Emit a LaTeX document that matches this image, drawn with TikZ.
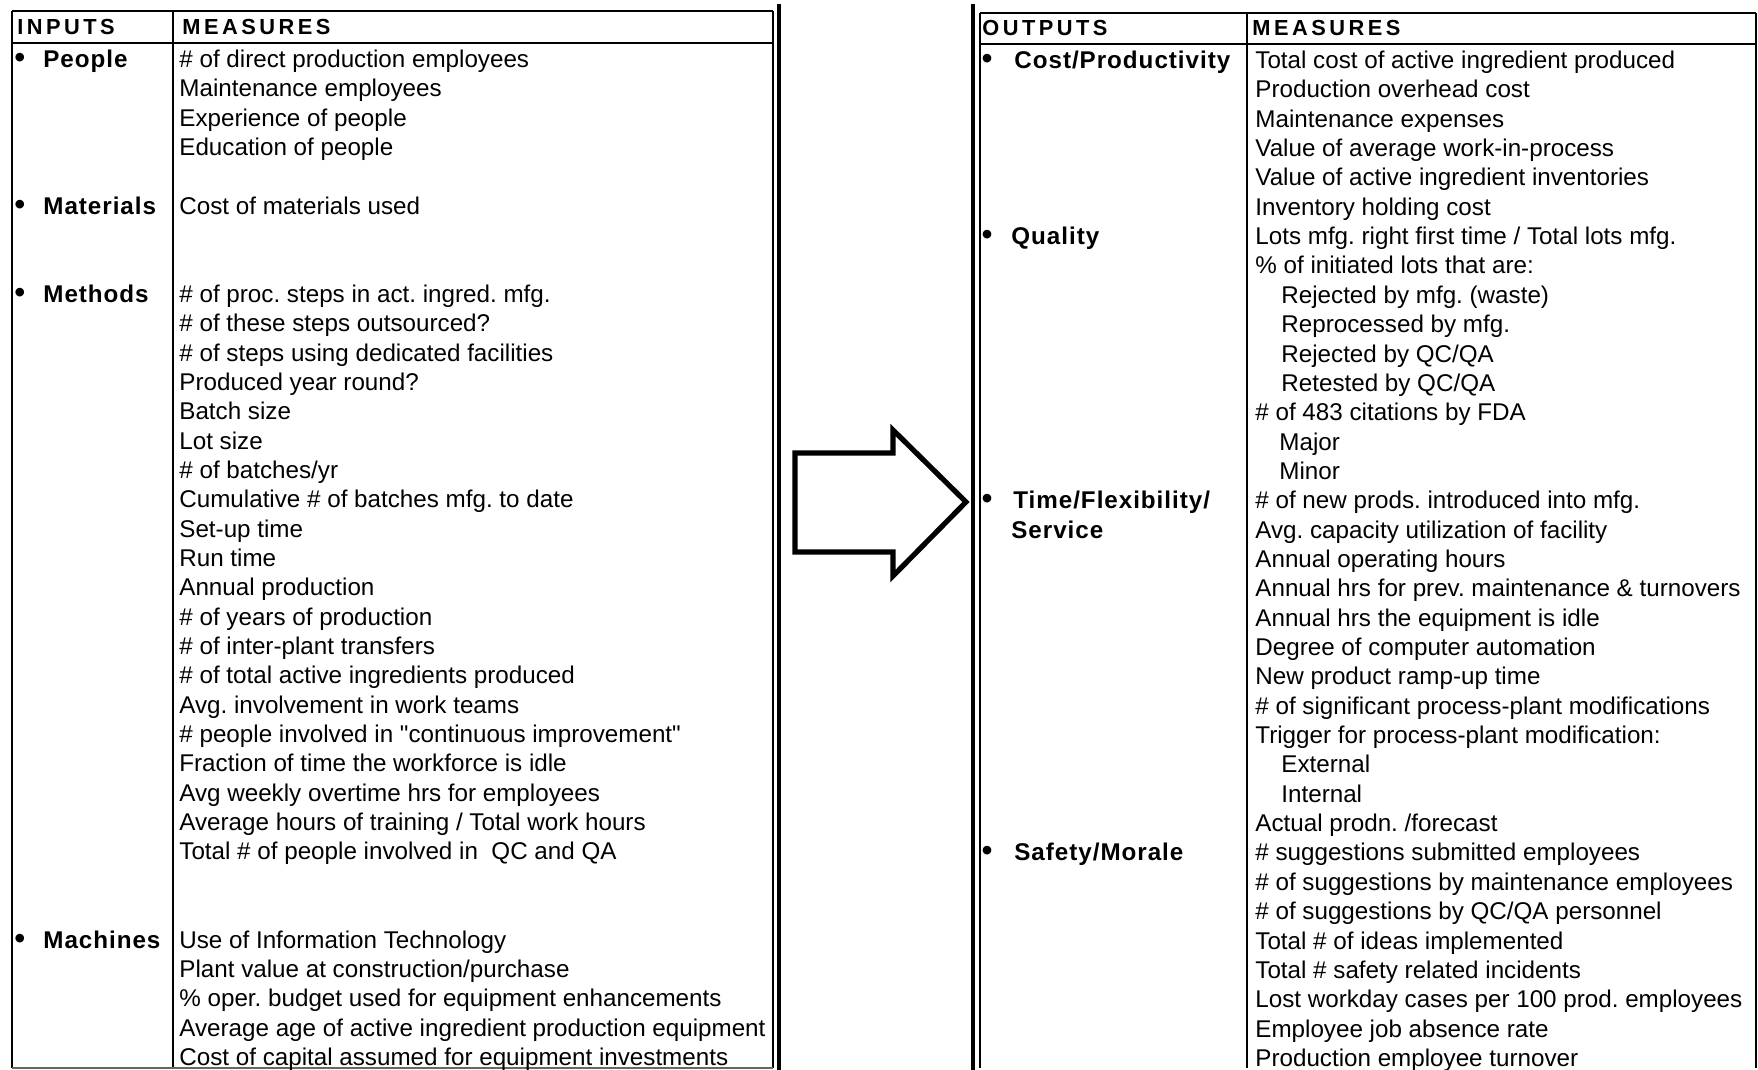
\documentclass[tikz,border=0pt]{standalone}
\usepackage{fontspec}
\setmainfont{Liberation Sans}
% families without the TeX quote mapping, so " stays a straight quote
\newfontfamily\bodyfont{Liberation Sans}
\newfontfamily\hdfont{Liberation Sans}[LetterSpace=16]
\newfontfamily\lblfont{Liberation Sans}[LetterSpace=4]
\frenchspacing
\begin{document}
\begin{tikzpicture}[x=0.5pt,y=-0.5pt,
  body/.style={anchor=base west,inner sep=0pt,font=\bodyfont\fontsize{12.1}{14}\selectfont},
  lbl/.style={anchor=base west,inner sep=0pt,font=\lblfont\bfseries\fontsize{12.1}{14}\selectfont},
  hdr/.style={anchor=base west,inner sep=0pt,font=\hdfont\bfseries\fontsize{10.9}{12}\selectfont},
  dot/.style={anchor=base,inner sep=0pt,font=\bfseries\fontsize{15}{16}\selectfont},
  rule/.style={line width=1.1pt},
  heavy/.style={line width=1.7pt},
  bigarrow/.style={line width=2.6pt,line join=miter}]
\useasboundingbox[fill=white] (0,0) rectangle (1758,1070);

% ---------- inputs table frame ----------
\draw[rule] (12,11) -- (773,11);
\draw[rule] (12,43) -- (773,43);
\draw[rule] (12,11) -- (12,1068);
\draw[rule] (173,11) -- (173,1068);
\draw[rule] (773,11) -- (773,1068);
\draw[heavy] (779,4) -- (779,1070);
\draw[line width=0.6pt,black!60] (12,1068) -- (773,1068);

% ---------- outputs table frame ----------
\draw[heavy] (973,4) -- (973,1070);
\draw[rule] (980,13) -- (980,1068);
\draw[rule] (980,13) -- (1756,13);
\draw[rule] (980,44) -- (1756,44);
\draw[rule] (1247,13) -- (1247,1068);
\draw[rule] (1756,13) -- (1756,1068);

% ---------- headers ----------
\node[hdr] (hin)  at (17,35)   {INPUTS};
\node[hdr] (hm1)  at (182,35)  {MEASURES};
\node[hdr] (hout) at (982,36)  {OUTPUTS};
\node[hdr] (hm2)  at (1252,36) {MEASURES};

% ---------- input categories ----------
\foreach \k/\t in {0/People,5/Materials,8/Methods,30/Machines}{
  \node[dot] (ib\k) at (20,67.5+29.35*\k) {•};
  \node[lbl] (ic\k) at (43,67.5+29.35*\k) {\t};
}

% ---------- input measures ----------
\foreach \k/\t in {
  0/{\# of direct production employees},
  1/{Maintenance employees},
  2/{Experience of people},
  3/{Education of people},
  5/{Cost of materials used},
  8/{\# of proc. steps in act. ingred. mfg.},
  9/{\# of these steps outsourced?},
  10/{\# of steps using dedicated facilities},
  11/{Produced year round?},
  12/{Batch size},
  13/{Lot size},
  14/{\# of batches/yr},
  15/{Cumulative \# of batches mfg. to date},
  16/{Set-up time},
  17/{Run time},
  18/{Annual production},
  19/{\# of years of production},
  20/{\# of inter-plant transfers},
  21/{\# of total active ingredients produced},
  22/{Avg. involvement in work teams},
  23/{\# people involved in "continuous improvement"},
  24/{Fraction of time the workforce is idle},
  25/{Avg weekly overtime hrs for employees},
  26/{Average hours of training / Total work hours},
  27/{Total \# of people involved in \ QC and QA},
  30/{Use of Information Technology},
  31/{Plant value at construction/purchase},
  32/{\% oper. budget used for equipment enhancements},
  33/{Average age of active ingredient production equipment},
  34/{Cost of capital assumed for equipment investments}}{
  \node[body] (im\k) at (179,67.5+29.35*\k) {\t};
}

% ---------- output categories ----------
\foreach \k in {0,6,15,27}{
  \node[dot] (ob\k) at (987,68.5+29.35*\k) {•};
}
\node[lbl] (oc0)  at (1014,68.5+29.35*0)  {Cost/Productivity};
\node[lbl] (oc6)  at (1011,68.5+29.35*6)  {Quality};
\node[lbl] (oc15) at (1013,68.5+29.35*15) {Time/Flexibility/};
\node[lbl] (oc16) at (1011,68.5+29.35*16) {Service};
\node[lbl] (oc27) at (1014,68.5+29.35*27) {Safety/Morale};

% ---------- output measures ----------
\foreach \k/\x/\t in {
  0/1255/{Total cost of active ingredient produced},
  1/1255/{Production overhead cost},
  2/1255/{Maintenance expenses},
  3/1255/{Value of average work-in-process},
  4/1255/{Value of active ingredient inventories},
  5/1255/{Inventory holding cost},
  6/1255/{Lots mfg. right first time / Total lots mfg.},
  7/1255/{\% of initiated lots that are:},
  8/1281/{Rejected by mfg. (waste)},
  9/1281/{Reprocessed by mfg.},
  10/1281/{Rejected by QC/QA},
  11/1281/{Retested by QC/QA},
  12/1255/{\# of 483 citations by FDA},
  13/1279/{Major},
  14/1279/{Minor},
  15/1255/{\# of new prods. introduced into mfg.},
  16/1255/{Avg. capacity utilization of facility},
  17/1255/{Annual operating hours},
  18/1255/{Annual hrs for prev. maintenance \& turnovers},
  19/1255/{Annual hrs the equipment is idle},
  20/1255/{Degree of computer automation},
  21/1255/{New product ramp-up time},
  22/1255/{\# of significant process-plant modifications},
  23/1255/{Trigger for process-plant modification:},
  24/1281/{External},
  25/1281/{Internal},
  26/1255/{Actual prodn. /forecast},
  27/1255/{\# suggestions submitted employees},
  28/1255/{\# of suggestions by maintenance employees},
  29/1255/{\# of suggestions by QC/QA personnel},
  30/1255/{Total \# of ideas implemented},
  31/1255/{Total \# safety related incidents},
  32/1255/{Lost workday cases per 100 prod. employees},
  33/1255/{Employee job absence rate},
  34/1255/{Production employee turnover}}{
  \node[body] (om\k) at (\x,68.5+29.35*\k) {\t};
}

% ---------- block arrow between the tables ----------
\draw[bigarrow] (795,453) -- (893,453) -- (893,430) -- (966,502)
  -- (893,576) -- (893,552) -- (795,552) -- cycle;
\end{tikzpicture}
\end{document}
